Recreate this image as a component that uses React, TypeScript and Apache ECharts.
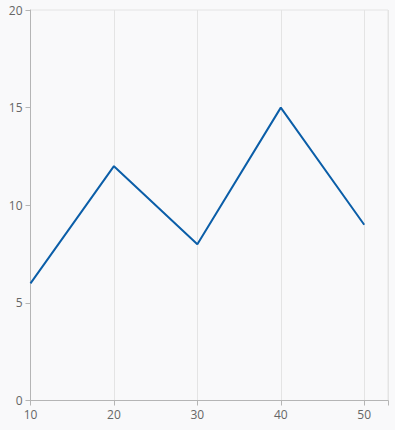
import React, { useEffect, useRef } from "react";
import * as echarts from "echarts";

const xValues = [10, 20, 30, 40, 50];
const yValues = [6, 12, 8, 15, 9];
const xTicks = [10, 20, 30, 40, 50];
const yTicks = [0, 5, 10, 15, 20];

export default function App() {
  const ref = useRef<HTMLDivElement>(null);
  useEffect(() => {
    if (!ref.current) return;
    const chart = echarts.init(ref.current, undefined, { renderer: "svg" });
    const font = "'Open Sans', 'Noto Sans', sans-serif";
    chart.setOption({
      animation: false,
      backgroundColor: "#f9f9fa",
      grid: {
        left: 30.5,
        top: 10,
        right: 7,
        bottom: 29.5,
        show: true,
        borderColor: "#e4e4e4",
        borderWidth: 1,
        backgroundColor: "transparent",
      },
      xAxis: {
        type: "value",
        min: 10,
        max: 52.85,
        interval: 10,
        axisLine: { show: true, lineStyle: { color: "#b5b5b5", width: 1 } },
        axisTick: { show: true, length: 5, lineStyle: { color: "#b5b5b5" } },
        splitLine: { show: true, lineStyle: { color: "#e4e4e4", width: 1 } },
        axisLabel: {
          color: "#666",
          fontSize: 12,
          fontFamily: font,
          margin: 8,
          formatter: (v: number) => (xTicks.includes(Math.round(v * 100) / 100) ? String(v) : ""),
        },
      },
      yAxis: {
        type: "value",
        min: yTicks[0],
        max: yTicks[yTicks.length - 1],
        interval: 5,
        axisLine: { show: true, lineStyle: { color: "#b5b5b5", width: 1 } },
        axisTick: { show: true, length: 5, lineStyle: { color: "#b5b5b5" } },
        splitLine: { show: false },
        axisLabel: { color: "#666", fontSize: 12, fontFamily: font, margin: 8 },
      },
      series: [
        {
          type: "line",
          data: xValues.map((x, i) => [x, yValues[i]]),
          showSymbol: false,
          symbol: "none",
          lineStyle: { color: "#0b5ea8", width: 2 },
        },
      ],
    });
    return () => chart.dispose();
  }, []);
  return (
    <div
      ref={ref}
      style={{ position: "fixed", left: 0, top: 0, width: 395, height: 430 }}
    />
  );
}
